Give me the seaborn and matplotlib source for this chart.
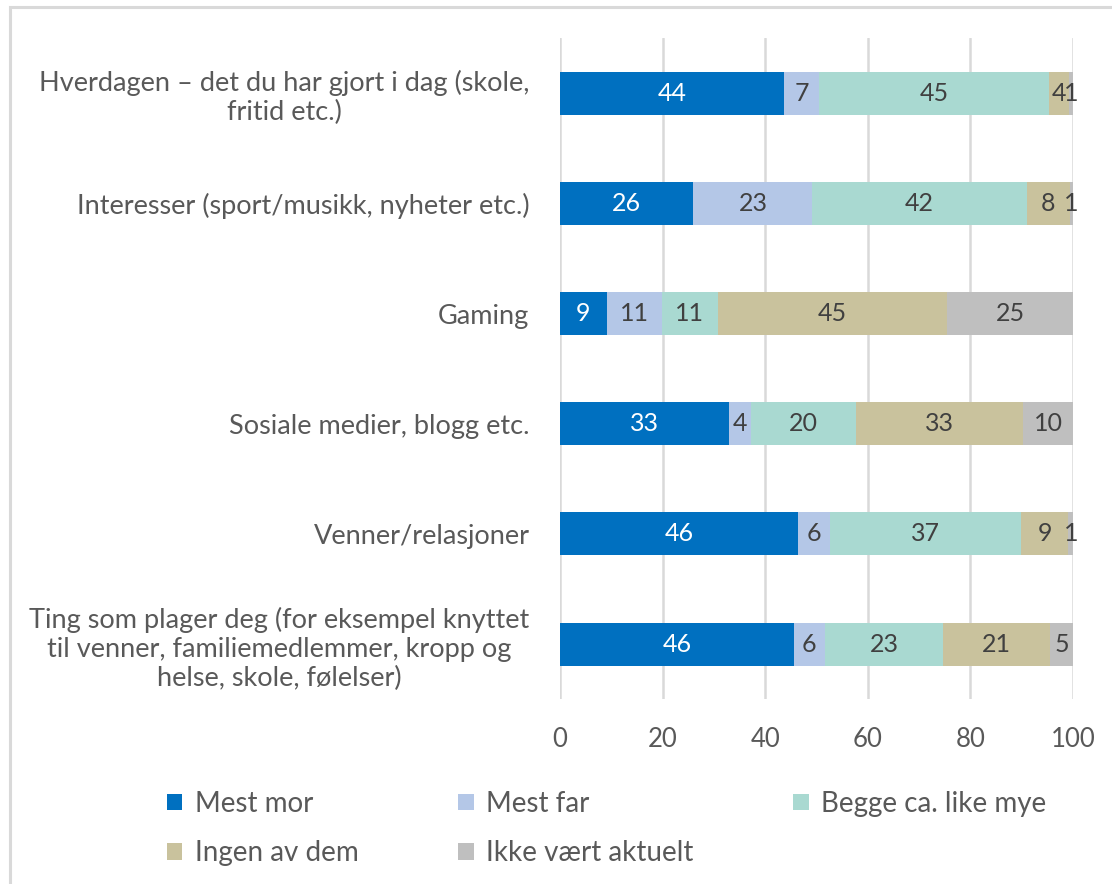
import numpy as np
import pandas as pd
import matplotlib
matplotlib.use("Agg")
import matplotlib.pyplot as plt
from matplotlib.patches import Rectangle
import seaborn as sns

categories = [
    "Hverdagen – det du har gjort i dag (skole,\nfritid etc.)",
    "Interesser (sport/musikk, nyheter etc.)",
    "Gaming",
    "Sosiale medier, blogg etc.",
    "Venner/relasjoner",
    "Ting som plager deg (for eksempel knyttet\ntil venner, familiemedlemmer, kropp og\nhelse, skole, følelser)",
]
seriesNames = ["Mest mor", "Mest far", "Begge ca. like mye", "Ingen av dem", "Ikke vært aktuelt"]

mestMor = [43.7, 26.0, 9.1, 33.0, 46.4, 45.6]
mestFar = [6.8, 23.2, 10.8, 4.2, 6.2, 6.0]
begge = [44.8, 41.8, 10.8, 20.4, 37.3, 23.1]
ingen = [4.0, 8.4, 44.7, 32.7, 9.2, 20.8]
ikke = [0.7, 0.6, 24.6, 9.7, 0.9, 4.5]

colors = ["#0070C0", "#B4C7E7", "#A9D9D1", "#C9C29D", "#BFBFBF"]
textColors = ["white", "#404040", "#404040", "#404040", "#404040"]

sns.set_style("white")
plt.rcParams["font.family"] = ["Lato", "DejaVu Sans"]

df = pd.DataFrame({"kategori": categories})
values = [mestMor, mestFar, begge, ingen, ikke]
for name, v in zip(seriesNames, values):
    df[name] = v
cum = df[seriesNames].cumsum(axis=1)
cum["kategori"] = categories

fig = plt.figure(figsize=(11.12, 8.84), dpi=100)
ax = fig.add_axes([0.5036, 0.209, 0.4614, 0.748])

# stacked bars: draw cumulative totals from the right-most series down
for name, color in reversed(list(zip(seriesNames, colors))):
    sns.barplot(data=cum, x=name, y="kategori", color=color, orient="h",
                width=0.39, ax=ax, label=name, saturation=1, linewidth=0)
if ax.get_legend() is not None:
    ax.get_legend().remove()

# segment labels
for name, tc in zip(seriesNames, textColors):
    right = cum[name].values
    left = right - df[name].values
    for row in range(len(categories)):
        val = df[name].values[row]
        center = (left[row] + right[row]) / 2
        ax.text(center, row, f"{int(np.floor(val + 0.5))}", ha="center", va="center",
                color=tc, fontsize=18)

ax.set_xlim(0, 100)
ax.set_ylim(5.5, -0.5)
ax.set_xticks([0, 20, 40, 60, 80, 100])
ax.xaxis.grid(True, color="#D9D9D9", linewidth=1.8)
ax.set_axisbelow(True)
for s in ax.spines.values():
    s.set_visible(False)
ax.tick_params(axis="both", length=0, labelcolor="#595959")
ax.tick_params(axis="x", pad=20, labelsize=18.5)
ax.tick_params(axis="y", pad=22, labelsize=19.5)
ax.set_xlabel("")
ax.set_ylabel("")
for lbl in ax.get_yticklabels():
    lbl.set_multialignment("center")
    lbl.set_linespacing(1.2)

handles, labels = ax.get_legend_handles_labels()
# legend fills column by column; order so it reads row by row
rowOrder = ["Mest mor", "Ingen av dem", "Mest far", "Ikke vært aktuelt", "Begge ca. like mye"]
order = [labels.index(n) for n in rowOrder]
fig.legend([handles[k] for k in order], [labels[k] for k in order],
           loc="upper left", bbox_to_anchor=(0.140, 0.118), ncol=3, frameon=False,
           fontsize=20, labelcolor="#595959", handlelength=0.55, handleheight=0.55,
           handletextpad=0.45, columnspacing=3.6, labelspacing=0.85, borderaxespad=0)

fig.patches.append(Rectangle((0.009, -0.05), 1.2, 1.042, transform=fig.transFigure,
                             fill=False, edgecolor="#D9D9D9", linewidth=2.2))

fig.savefig("out.png", dpi=100)
